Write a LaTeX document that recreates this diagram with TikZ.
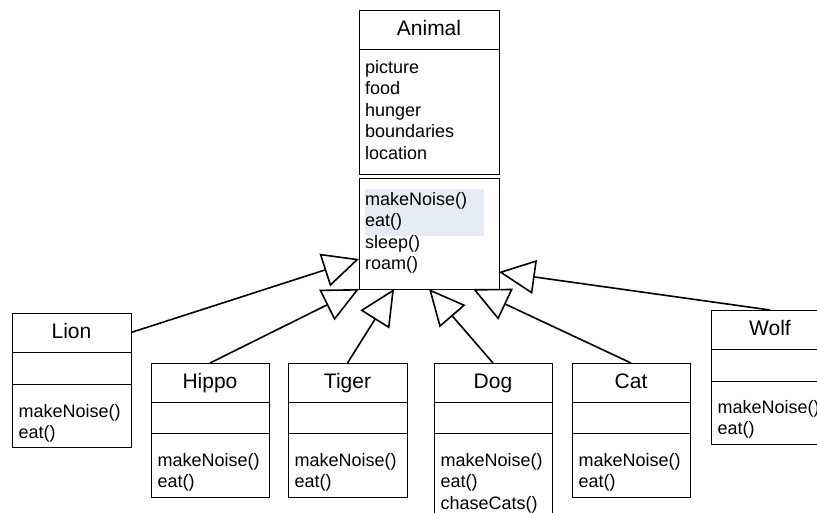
\documentclass[tikz,border=0pt]{standalone}
\usepackage{fontspec}
\setmainfont{Liberation Sans}
\usetikzlibrary{arrows.meta}
\definecolor{hilite}{HTML}{E6ECF6}
\newcommand{\ttlfont}{\fontsize{21}{25}\selectfont}
\newcommand{\memfont}{\fontsize{18}{21.5}\selectfont}
\tikzset{
  box/.style={draw, line width=0.8pt, inner sep=0pt, outer sep=0pt, anchor=north west},
  ttl/.style={font=\ttlfont, anchor=base, inner sep=0pt},
  mem/.style={font=\memfont, anchor=base west, inner sep=0pt},
  gen/.style={line width=1.6pt, -{Triangle[open, length=36pt, width=34pt, line width=1.6pt]}},
}
% #1 name, #2 left, #3 right, #4 top, #5 div1, #6 div2, #7 bottom, #8 title
\newcommand{\umlclass}[8]{%
  \node[box, minimum width={(#3-#2)*1pt}, minimum height={(#5-#4)*1pt}] (#1h) at (#2,#4) {};
  \node[box, minimum width={(#3-#2)*1pt}, minimum height={(#6-#5)*1pt}] (#1a) at (#2,#5) {};
  \node[box, minimum width={(#3-#2)*1pt}, minimum height={(#7-#6)*1pt}] (#1m) at (#2,#6) {};
  \node[ttl] (#1t) at ({(#2+#3)/2},{#4+25}) {#8};
}
% #1 name prefix, #2 x, #3 first baseline, #4 list
\newcommand{\members}[4]{%
  \foreach \txt [count=\i] in {#4} {
    \node[mem] (#1\i) at (#2,{#3+21.5*(\i-1)}) {\txt};
  }
}
\begin{document}
\begin{tikzpicture}[x=1pt,y=-1pt]
\useasboundingbox (0,0) rectangle (817,512);
\clip (0,0) rectangle (817,512);
\fill[white] (0,0) rectangle (817,512);

% Animal
\node[box, minimum width=140pt, minimum height=39pt] (animalh) at (359,10) {};
\node[box, minimum width=140pt, minimum height=125pt] (animala) at (359,49) {};
\node[box, minimum width=140pt, minimum height=111pt] (animalm) at (359,178) {};
\fill[hilite] (365,189) rectangle (484,236);
\node[ttl] (animalt) at (429,35) {Animal};
\members{animalattr}{365}{73}{picture,food,hunger,boundaries,location}
\members{animalmeth}{365}{205}{makeNoise(),eat(),sleep(),roam()}

% Subclasses
\umlclass{lion}{12}{131}{313}{352}{384}{447}{Lion}
\members{lionmeth}{18.5}{417}{makeNoise(),eat()}
\umlclass{hippo}{151}{269}{363}{402}{433}{497}{Hippo}
\members{hippometh}{157.5}{466}{makeNoise(),eat()}
\umlclass{tiger}{288}{407}{363}{402}{433}{497}{Tiger}
\members{tigermeth}{294.5}{466}{makeNoise(),eat()}
\umlclass{dog}{434}{552}{363}{402}{433}{530}{Dog}
\members{dogmeth}{440.5}{466}{makeNoise(),eat(),chaseCats()}
\umlclass{cat}{572}{690}{363}{402}{433}{497}{Cat}
\members{catmeth}{578.5}{466}{makeNoise(),eat()}
\umlclass{wolf}{711}{829}{310}{349}{381}{444}{Wolf}
\members{wolfmeth}{717.5}{413}{makeNoise(),eat()}

% Arrow tip points on Animal
\coordinate (t1) at (359,259);
\coordinate (t3) at (394,289);
\coordinate (t4) at (429,289);
\coordinate (t5) at (473,289);
\coordinate (t6) at (499,272);

\draw[gen] (lionh.east) -- (t1);
\draw[gen] (hippoh.north) -- (animalm.south west);
\draw[gen] (tigerh.north) -- (t3);
\draw[gen] (dogh.north) -- (t4);
\draw[gen] (cath.north) -- (t5);
\draw[gen] (wolfh.north) -- (t6);
\end{tikzpicture}
\end{document}
